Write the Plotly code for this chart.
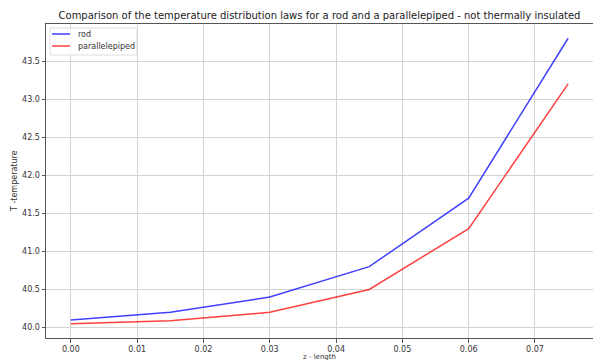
import plotly.graph_objects as go

z_length = [0.0, 0.015, 0.03, 0.045, 0.06, 0.075]
rod = [40.1, 40.2, 40.4, 40.8, 41.7, 43.8]
parallelepiped = [40.05, 40.09, 40.2, 40.5, 41.3, 43.2]
x_ticks = [0.00, 0.01, 0.02, 0.03, 0.04, 0.05, 0.06, 0.07]
y_ticks = [40.0, 40.5, 41.0, 41.5, 42.0, 42.5, 43.0, 43.5]
series_names = ["rod", "parallelepiped"]
series_colors = ["rgba(0,0,255,0.75)", "rgba(255,0,0,0.75)"]

FONT = "DejaVu Sans"
W, H = 593, 360
L, R, T, B = 46, 0, 24, 22
PW, PH = W - L - R, H - T - B


def px(x):
    return (x - L) / PW


def py(y):
    return (H - B - y) / PH


fig = go.Figure()
for name, vals, col in zip(series_names, [rod, parallelepiped], series_colors):
    fig.add_trace(go.Scatter(x=z_length, y=vals, mode="lines", name=name,
                             line=dict(color=col, width=1.5), showlegend=False))

axis_common = dict(showgrid=True, gridcolor="#d3d3d3", gridwidth=1, showline=True,
                   linecolor="#555555", linewidth=1, mirror=True, ticks="outside",
                   ticklen=3.5, tickcolor="#555555", zeroline=False, automargin=False,
                   tickfont=dict(family=FONT, size=8, color="#333333"))

shapes = []
annotations = []
# legend box
shapes.append(dict(type="rect", xref="paper", yref="paper",
                   x0=px(50), x1=px(137), y0=py(28), y1=py(55),
                   line=dict(color="#dddddd", width=1), fillcolor="rgba(255,255,255,0.8)", layer="above"))
for i, (name, col) in enumerate(zip(series_names, series_colors)):
    yy = 34 + 12 * i
    shapes.append(dict(type="line", xref="paper", yref="paper",
                       x0=px(52), x1=px(70), y0=py(yy), y1=py(yy),
                       line=dict(color=col, width=1.5), layer="above"))
    annotations.append(dict(text=name, xref="paper", yref="paper", x=px(76), y=py(yy),
                            xanchor="left", yanchor="middle", showarrow=False,
                            font=dict(family=FONT, size=8, color="#333333")))

# axis titles
annotations.append(dict(text="z - length", xref="paper", yref="paper", x=0.5, y=py(356.5),
                        xanchor="center", yanchor="middle", showarrow=False,
                        font=dict(family=FONT, size=7, color="#333333")))
annotations.append(dict(text="T -temperature", xref="paper", yref="paper", x=px(14), y=0.5,
                        xanchor="center", yanchor="middle", showarrow=False, textangle=-90,
                        font=dict(family=FONT, size=8, color="#333333")))

fig.update_layout(
    width=W, height=H,
    margin=dict(l=L, r=R, t=T, b=B, autoexpand=False),
    paper_bgcolor="white", plot_bgcolor="white",
    title=dict(text="Comparison of the temperature distribution laws for a rod and a parallelepiped - not thermally insulated",
               font=dict(family=FONT, size=10, color="#222222"), x=0.5, xref="paper", xanchor="center",
               y=1 - 15.5 / H, yanchor="middle"),
    xaxis=dict(range=[-0.00375, 0.07875], tickvals=x_ticks,
               ticktext=[f"{v:.2f}" for v in x_ticks], **axis_common),
    yaxis=dict(range=[39.8625, 43.9875], tickvals=y_ticks,
               ticktext=[f"{v:.1f}" for v in y_ticks], **axis_common),
    shapes=shapes,
    annotations=annotations,
    showlegend=False,
)

fig.write_html("out.html")
